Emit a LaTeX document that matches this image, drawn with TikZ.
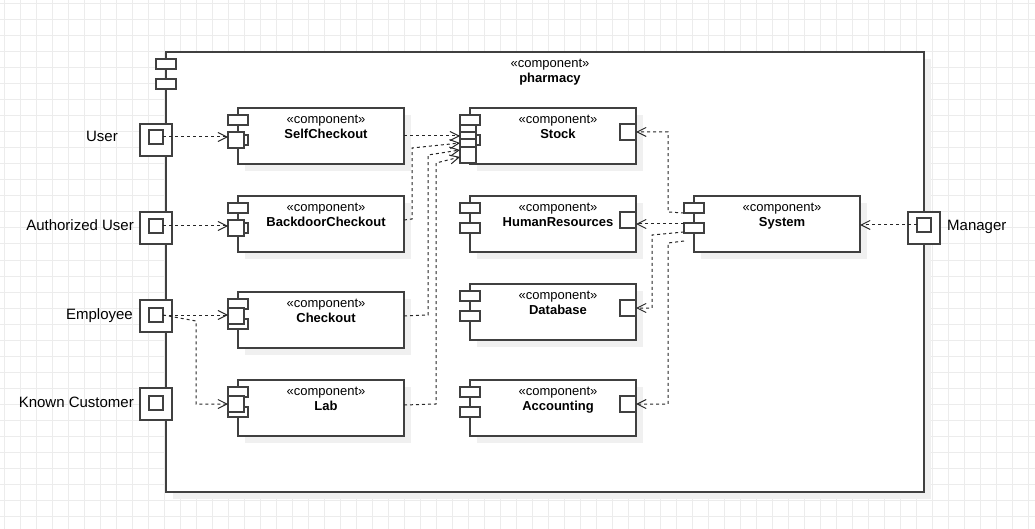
\documentclass[tikz,border=0pt]{standalone}
\usepackage{fontspec}
\setmainfont{Liberation Sans}
\usetikzlibrary{calc}
\usetikzlibrary{arrows.meta}
\usetikzlibrary{shadows}
\definecolor{boxline}{RGB}{64,64,64}
\definecolor{shadowgray}{RGB}{240,240,240}
\definecolor{gridgray}{RGB}{236,236,236}
\tikzset{
  box/.style={draw=boxline, fill=white, line width=1.2pt, inner sep=0pt, outer sep=0pt},
  compbox/.style={box, anchor=north west, minimum width=166pt, minimum height=56pt,
    drop shadow={shadow xshift=7pt, shadow yshift=-7pt, fill=shadowgray, opacity=1}},
  tab/.style={box, minimum width=20pt, minimum height=10pt},
  port/.style={box, minimum size=16pt},
  extport/.style={box, minimum size=32pt},
  inport/.style={box, minimum size=14pt},
  stereo/.style={font=\fontsize{13}{15}\selectfont, inner sep=0pt, anchor=base},
  actor/.style={font=\fontsize{15}{18}\selectfont, inner sep=0pt},
  dep/.style={draw=black!85, line width=1pt, dash pattern=on 3pt off 3pt,
    -{Straight Barb[length=9pt,width=9pt]}},
}
\newcommand{\umlcomp}[5][]{%
  \node[compbox,#1] (#2) at (#3,#4) {};
  \node[tab] (#2-a) at ($(#2.north west)+(0,12)$) {};
  \node[tab] (#2-b) at ($(#2.north west)+(0,32)$) {};
  \node[stereo] at ($(#2.north)+(5,15.5)$) {«component»};
  \node[stereo] at ($(#2.north)+(5,30.5)$) {\textbf{#5}};
}

\begin{document}
\begin{tikzpicture}[x=1pt,y=-1pt]
\useasboundingbox (0,0) rectangle (1035,529);
% background grid
\foreach \g in {4,20,...,1035} \draw[gridgray, line width=1pt] (\g,0) -- (\g,529);
\foreach \g in {4,20,...,529} \draw[gridgray, line width=1pt] (0,\g) -- (1035,\g);

% outer component
\umlcomp[minimum width=758pt,minimum height=440pt]{ph}{166}{52}{pharmacy}

% actor ports
\node[extport] (uP) at (156,140) {};
\node[inport] (uI) at (156,137) {};
\node[actor, anchor=base east] (uL) at (118,142) {User};
\node[extport] (aP) at (156,228) {};
\node[inport] (aI) at (156,226) {};
\node[actor, anchor=base east] (aL) at (134,231) {Authorized User};
\node[extport] (eP) at (156,316) {};
\node[inport] (eI) at (156,315) {};
\node[actor, anchor=base east] (eL) at (133,319) {Employee};
\node[extport] (kP) at (156,404) {};
\node[inport] (kI) at (156,403) {};
\node[actor, anchor=base east] (kL) at (134,407) {Known Customer};
\node[extport] (mP) at (924,228) {};
\node[inport] (mI) at (924,225) {};
\node[actor, anchor=base west] (mL) at (947,230.5) {Manager};

% left column
\umlcomp{sc}{238}{108}{SelfCheckout}
\node[port] (scP) at (236,140) {};
\umlcomp{bc}{238}{196}{BackdoorCheckout}
\node[port] (bcP) at (236,228) {};
\umlcomp{ck}{238}{292}{Checkout}
\node[port] (ckP) at (236,316) {};
\umlcomp{lb}{238}{380}{Lab}
\node[port] (lbP) at (236,404) {};

% right column
\umlcomp{st}{470}{108}{Stock}
\node[port] (stP1) at (468,133) {};
\node[port] (stP2) at (468,140) {};
\node[port] (stP3) at (468,147) {};
\node[port] (stP4) at (468,155) {};
\node[port] (stR) at (628,132) {};
\umlcomp{hr}{470}{196}{HumanResources}
\node[port] (hrR) at (628,220) {};
\umlcomp{db}{470}{284}{Database}
\node[port] (dbR) at (628,308) {};
\umlcomp{ac}{470}{380}{Accounting}
\node[port] (acR) at (628,404) {};
\umlcomp{sys}{694}{196}{System}

% dependencies
\draw[dep] (uI.east) -- (uI.east -| scP.west);
\draw[dep] (aI.east) -- (aI.east -| bcP.west);
\draw[dep] (eI.east) -- (eI.east -| ckP.west);
\draw[dep] (eI.east) -- ++(33,6) |- (lbP.west);
\draw[dep] (sc.east) -- (sc.east -| stP1.west);
\draw[dep] ($(bc.east)+(0,-4)$) -- ++(8,-1) -- ++(0,-71) -- ($(stP2.west)+(0,3)$);
\draw[dep] ($(ck.east)+(0,-4)$) -- ++(24,-1) -- ++(0,-160) -- ($(stP3.west)+(0,3)$);
\draw[dep] ($(lb.east)+(0,-3)$) -- ++(32,-1) -- ++(0,-241) -- ($(stP4.west)+(0,2)$);
\draw[dep] (sys-a.south west) -- ++(-16,-1) |- (stR.east);
\draw[dep] ($(sys-b.west)+(0,-4)$) -- ($(hrR.east)+(0,4)$);
\draw[dep] ($(sys-b.west)+(0,4)$) -- ++(-32,3) |- (dbR.east);
\draw[dep] ($(sys-b.south west)+(0,8)$) -- ++(-16,2) |- (acR.east);
\draw[dep] (mI.west) -- (mI.west -| sys.east);
\end{tikzpicture}
\end{document}
